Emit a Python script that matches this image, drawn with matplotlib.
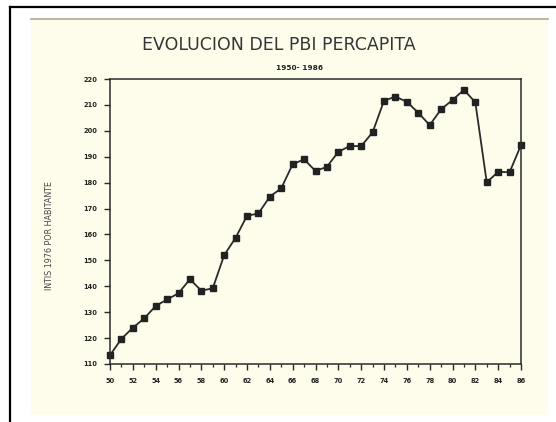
import matplotlib
matplotlib.use("Agg")
import matplotlib.pyplot as plt
from matplotlib.patches import Rectangle
from matplotlib.lines import Line2D
from matplotlib.ticker import MultipleLocator

years = list(range(50, 87))
pbi = [113.4, 119.7, 124.0, 127.6, 132.4, 134.9, 137.3, 142.7, 138.3, 139.2,
       152.0, 158.7, 167.2, 168.1, 174.6, 177.8, 187.1, 189.0, 184.5, 186.1,
       191.9, 194.1, 194.1, 199.4, 211.6, 213.2, 211.2, 207.0, 202.2, 208.3,
       211.9, 215.8, 211.0, 180.1, 184.2, 184.0, 194.5]
xticks = list(range(50, 87, 2))
yticks = list(range(110, 221, 10))

title = "EVOLUCION DEL PBI PERCAPITA"
subtitle = "1950- 1986"
ylabel = "INTIS 1976 POR HABITANTE"

W, H = 556, 422
paper = "#fefdec"
ink = "#2a2a2a"

fig = plt.figure(figsize=(W / 100, H / 100), dpi=100, facecolor="white")

def fx(px):
    return px / W

def fy(py):
    return 1 - py / H

# paper
fig.patches.append(Rectangle((fx(31), fy(415)), fx(548) - fx(31), fy(18) - fy(415),
                             transform=fig.transFigure, facecolor=paper,
                             edgecolor="none", zorder=-10))
fig.lines.append(Line2D([fx(31), fx(548)], [fy(18.5), fy(18.5)], transform=fig.transFigure,
                        color="#b0ab98", lw=1.2, zorder=-9))
# outer frame
fig.lines.append(Line2D([fx(10), fx(10)], [0, fy(7)], transform=fig.transFigure,
                        color="black", lw=1.6, zorder=-9))
fig.lines.append(Line2D([fx(10), 1], [fy(7), fy(7)], transform=fig.transFigure,
                        color="black", lw=1.6, zorder=-9))

ax = fig.add_axes([fx(110), fy(364), fx(521) - fx(110), fy(79) - fy(364)])
ax.set_zorder(5)
ax.set_facecolor(paper)
ax.plot(years, pbi, color=ink, lw=1.3, marker="s", markersize=3.8,
        markerfacecolor="#222222", markeredgecolor="#222222", clip_on=False)
ax.set_xlim(50, 86)
ax.set_ylim(110, 220)
ax.set_xticks(xticks)
ax.set_xticklabels([str(t) for t in xticks])
ax.xaxis.set_minor_locator(MultipleLocator(1))
ax.set_yticks(yticks)
for s in ax.spines.values():
    s.set_color(ink)
    s.set_linewidth(1.1)
ax.tick_params(axis="both", which="major", length=4, width=1, color=ink,
               labelsize=4.8, labelcolor="#222222", direction="out")
ax.tick_params(axis="x", which="minor", length=2.5, width=0.9, color=ink, direction="out")
ax.tick_params(axis="x", pad=6)
ax.tick_params(axis="y", pad=5)
for lab in ax.get_xticklabels() + ax.get_yticklabels():
    lab.set_fontweight("bold")

fig.text(fx(279), fy(45), title, ha="center", va="center", fontsize=12.5,
         color="#353535", family="DejaVu Sans")
fig.text(fx(299), fy(68), subtitle, ha="center", va="center", fontsize=5.3,
         color="#222222", fontweight="bold")
fig.text(fx(50), fy(235), ylabel, ha="center", va="center", rotation=90,
         fontsize=5.8, color="#444444")

fig.savefig("out.png", dpi=100, facecolor="white")
